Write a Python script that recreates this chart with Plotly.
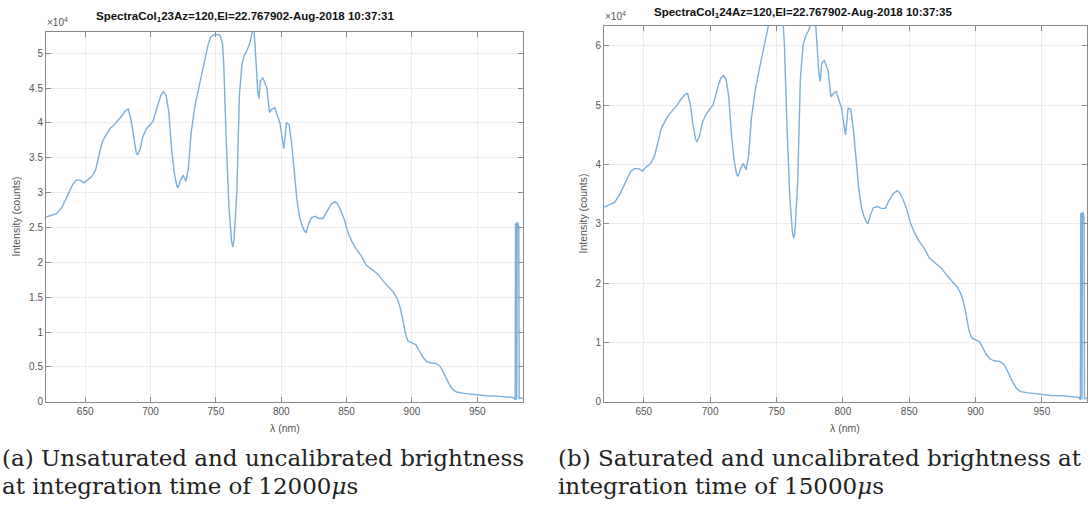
import plotly.graph_objects as go

W, H = 1092, 512

# ---- data (a): unsaturated, 12000 us ----
wl_a = [620, 624, 628, 632, 636, 640, 643, 646, 649, 652, 655, 658, 661, 663, 666, 669, 672, 675, 678, 681,
        683, 685, 687, 689, 690, 692, 694, 697, 700, 702, 704, 706, 708, 710, 712, 714, 716, 718, 720, 721,
        723, 725, 727, 729, 731, 734, 737, 740, 742, 744, 746, 748, 750, 753, 755, 756, 758, 760, 762, 763,
        764, 766, 768, 770, 772, 774, 776, 778, 779, 781, 782, 783, 784, 786, 788, 789, 791, 793, 795, 797,
        799, 801, 802, 804, 806, 808, 810, 812, 814, 816, 818, 819, 821, 823, 826, 829, 832, 835, 838, 841,
        843, 845, 848, 851, 854, 857, 861, 865, 870, 874, 878, 882, 886, 889, 891, 893, 895, 897, 900, 903,
        905, 908, 911, 914, 918, 921, 923, 925, 928, 931, 934, 940, 945, 950, 957, 965, 970, 975, 978, 979,
        979.3, 979.8, 980.2, 980.6, 981.3, 981.8, 982.1, 983, 985]
counts_a = [26500, 26800, 27000, 27800, 29500, 31000, 31800, 31800, 31400, 31900, 32300, 33300, 35500, 37300,
            38300, 39200, 39700, 40300, 41000, 41800, 42000, 40500, 37800, 35800, 35400, 36200, 38000, 39200,
            39800, 40300, 41600, 43000, 44000, 44500, 43900, 41500, 36500, 33000, 31000, 30700, 31800, 32500,
            31600, 33500, 38500, 42500, 45200, 48000, 49800, 51200, 52300, 52600, 52700, 52600, 51500, 48500,
            37000, 28000, 23000, 22200, 23500, 30000, 44000, 48500, 49800, 50500, 51500, 53600, 54000, 48000,
            44500, 43500, 46000, 46500, 45500, 45000, 41500, 42000, 42200, 41200, 40000, 37500, 36300, 40000,
            39800, 37000, 33000, 29000, 26500, 25200, 24400, 24300, 25500, 26400, 26600, 26300, 26300, 27400,
            28300, 28700, 28400, 27700, 26300, 24300, 23000, 22000, 21000, 19600, 18800, 18300, 17300, 16500,
            15700, 14700, 13500, 11800, 9800, 8700, 8400, 8200, 7500, 6500, 5800, 5600, 5500, 5200, 4600, 3800,
            2700, 1800, 1400, 1200, 1100, 950, 850, 800, 760, 700, 600, 250, 25600, 25400, 300, 25800, 25500,
            25000, 400, 500, 500]

# ---- data (b): saturated, 15000 us ----
wl_b = list(wl_a)
counts_b = [32800, 33200, 33600, 35000, 37000, 38800, 39300, 39300, 38900, 39600, 40100, 41400, 44000, 46000,
            47300, 48400, 49200, 50000, 51000, 51800, 52000, 50200, 46800, 44300, 43800, 44800, 47000, 48500,
            49400, 49900, 51500, 53300, 54500, 55000, 54300, 51500, 45200, 40800, 38300, 38000, 39300, 40200,
            39100, 41500, 47600, 52600, 56000, 59500, 61600, 63500, 65000, 65500, 65500, 65500, 64000, 60000,
            45800, 34700, 28500, 27600, 29000, 37200, 54500, 60000, 61700, 62500, 63800, 65500, 65500, 59500,
            55000, 54000, 57000, 57600, 56400, 55700, 51400, 52000, 52300, 51000, 49500, 46400, 45000, 49500,
            49300, 45800, 40800, 35900, 32800, 31200, 30200, 30100, 31600, 32700, 32900, 32600, 32600, 34000,
            35100, 35600, 35200, 34300, 32600, 30100, 28500, 27200, 26000, 24300, 23300, 22600, 21400, 20400,
            19400, 18200, 16700, 14600, 12100, 10800, 10400, 10100, 9300, 8000, 7200, 6900, 6800, 6400, 5700,
            4700, 3300, 2200, 1700, 1500, 1350, 1200, 1050, 1000, 940, 870, 740, 300, 31800, 31500, 400, 32000,
            31600, 31000, 500, 600, 600]

x_ticks = [650, 700, 750, 800, 850, 900, 950]
y_ticks_a = [0, 5000, 10000, 15000, 20000, 25000, 30000, 35000, 40000, 45000, 50000]
y_text_a = ["0", "0.5", "1", "1.5", "2", "2.5", "3", "3.5", "4", "4.5", "5"]
y_ticks_b = [0, 10000, 20000, 30000, 40000, 50000, 60000]
y_text_b = ["0", "1", "2", "3", "4", "5", "6"]

title_a = "SpectraCol<sub>1</sub>23Az=120,El=22.767902-Aug-2018 10:37:31"
title_b = "SpectraCol<sub>1</sub>24Az=120,El=22.767902-Aug-2018 10:37:35"
cap_a = ["(a) Unsaturated and uncalibrated brightness", "at integration time of 12000<i>μ</i>s"]
cap_b = ["(b) Saturated and uncalibrated brightness at", "integration time of 15000<i>μ</i>s"]

LINE = "rgb(122,176,219)"
AX = "#8a8a8a"
TXT = "#555555"


def px(x):
    return x / W


def py(y):
    return 1 - y / H


fig = go.Figure()
fig.add_trace(go.Scatter(x=wl_a, y=counts_a, mode="lines", line=dict(color=LINE, width=1.4),
                         xaxis="x", yaxis="y", showlegend=False))
fig.add_trace(go.Scatter(x=wl_b, y=counts_b, mode="lines", line=dict(color=LINE, width=1.4),
                         xaxis="x2", yaxis="y2", showlegend=False))

axis_common = dict(showline=True, linecolor=AX, linewidth=1, mirror="ticks", ticks="inside",
                   ticklen=5, tickcolor=AX, showgrid=True, gridcolor="#ebebeb", zeroline=False,
                   tickfont=dict(family="Liberation Sans, Arial", size=10, color=TXT))

fig.update_layout(
    width=W, height=H, margin=dict(l=0, r=0, t=0, b=0),
    paper_bgcolor="white", plot_bgcolor="white",
    xaxis=dict(domain=[px(46), px(523)], range=[620, 985], tickvals=x_ticks, anchor="y", **axis_common),
    yaxis=dict(domain=[py(406.5), py(32)], range=[0, 53100], tickvals=y_ticks_a, ticktext=y_text_a,
               anchor="x", **axis_common),
    xaxis2=dict(domain=[px(604), px(1087)], range=[620, 984], tickvals=x_ticks, anchor="y2", **axis_common),
    yaxis2=dict(domain=[py(406.5), py(26)], range=[0, 63400], tickvals=y_ticks_b, ticktext=y_text_b,
                anchor="x2", **axis_common),
)

ann = []
# titles
ann.append(dict(x=px(245), y=py(17), text="<b>" + title_a + "</b>", showarrow=False, xref="paper", yref="paper",
                font=dict(family="Liberation Sans, Arial", size=11.5, color="#111"), xanchor="center", yanchor="middle"))
ann.append(dict(x=px(803), y=py(13), text="<b>" + title_b + "</b>", showarrow=False, xref="paper", yref="paper",
                font=dict(family="Liberation Sans, Arial", size=11.5, color="#111"), xanchor="center", yanchor="middle"))
# x10^4 labels
ann.append(dict(x=px(45), y=py(22), text="×10<sup>4</sup>", showarrow=False, xref="paper", yref="paper",
                font=dict(family="Liberation Sans, Arial", size=10, color=TXT), xanchor="left", yanchor="middle"))
ann.append(dict(x=px(603), y=py(16), text="×10<sup>4</sup>", showarrow=False, xref="paper", yref="paper",
                font=dict(family="Liberation Sans, Arial", size=10, color=TXT), xanchor="left", yanchor="middle"))
# axis titles
for xc in (285, 845):
    ann.append(dict(x=px(xc), y=py(433), text="λ (nm)", showarrow=False, xref="paper", yref="paper",
                    font=dict(family="Liberation Sans, Arial", size=10.5, color=TXT), xanchor="center", yanchor="middle"))
ann.append(dict(x=px(16), y=py(219), text="Intensity (counts)", textangle=-90, showarrow=False, xref="paper",
                yref="paper", font=dict(family="Liberation Sans, Arial", size=10.5, color=TXT),
                xanchor="center", yanchor="middle"))
ann.append(dict(x=px(583), y=py(216), text="Intensity (counts)", textangle=-90, showarrow=False, xref="paper",
                yref="paper", font=dict(family="Liberation Sans, Arial", size=10.5, color=TXT),
                xanchor="center", yanchor="middle"))
# captions
for (x0, lines) in ((0, cap_a), (556, cap_b)):
    for i, t in enumerate(lines):
        ann.append(dict(x=px(x0), y=py(463 + i * 29), text=t, showarrow=False, xref="paper", yref="paper",
                        font=dict(family="DejaVu Serif", size=23, color="#222"), xanchor="left", yanchor="middle"))

fig.update_layout(annotations=ann)
fig.write_html("out.html")
